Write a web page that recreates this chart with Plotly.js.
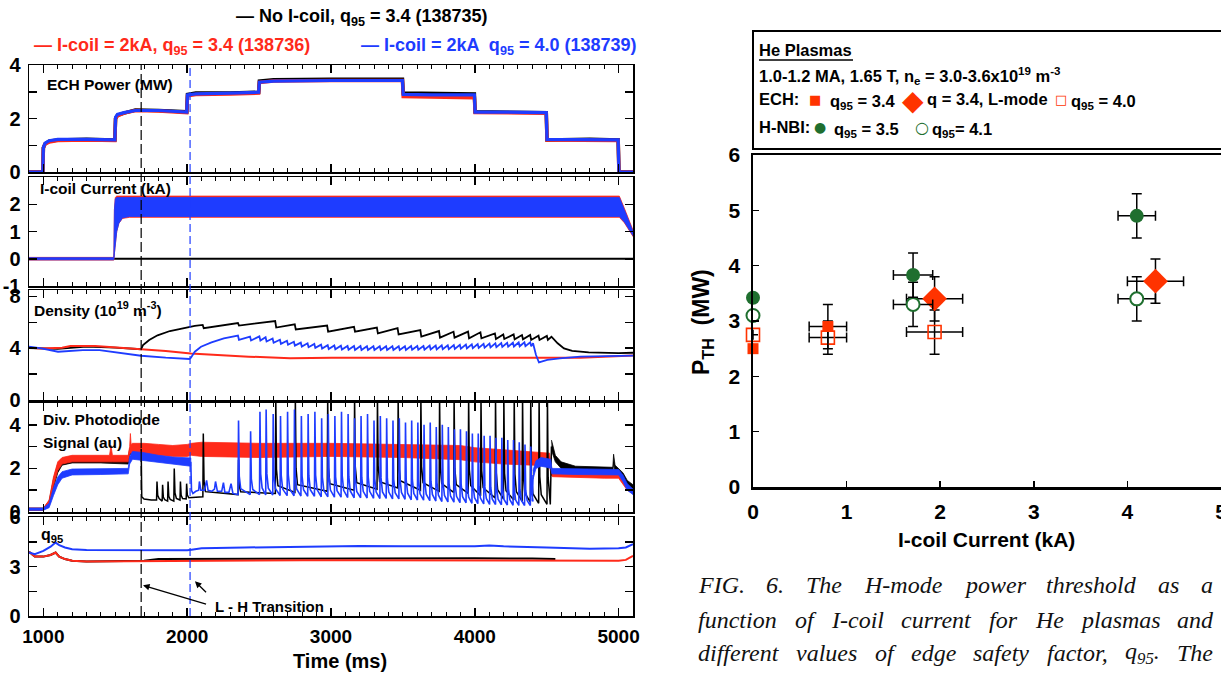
<!DOCTYPE html>
<html><head><meta charset="utf-8">
<script src="https://cdn.plot.ly/plotly-3.0.1.min.js"></script>
<style>html,body{margin:0;padding:0;background:#fff;}#chart{width:1221px;height:675px;}</style>
</head><body><div id="chart"></div>
<script>
// ================= DATA =================
// --- ECH power (MW) ---
const echT     = [900,996,1000,1012,1040,1100,1300,1497,1502,1515,1560,1640,1800,1997,2002,2060,2300,2497,2502,2600,3000,3497,3502,3700,3997,4002,4200,4497,4502,4800,4997,5002,5100];
const echBlack = [0,0,0.9,1.05,1.15,1.2,1.22,1.2,2.0,2.12,2.2,2.32,2.3,2.25,2.9,2.95,2.95,2.98,3.4,3.45,3.47,3.47,2.95,2.95,2.92,2.25,2.25,2.22,1.2,1.22,1.2,0,0];
const echRed   = [0,0,0.9,1.05,1.12,1.18,1.2,1.18,2.0,2.1,2.2,2.3,2.28,2.22,2.85,2.9,2.92,2.95,3.35,3.4,3.42,3.42,2.82,2.8,2.78,2.22,2.22,2.2,1.2,1.2,1.18,0,0];
const echBlue  = [0,0,0.92,1.08,1.17,1.22,1.22,1.2,2.05,2.15,2.22,2.3,2.3,2.24,2.88,2.92,2.95,2.98,3.36,3.4,3.42,3.42,2.9,2.88,2.88,2.24,2.24,2.22,1.22,1.22,1.2,0,0];

// --- I-coil current (kA): envelopes of the oscillating signal ---
const icoilT      = [900,1490,1494,1500,1510,1525,1550,1600,3000,5005,5040,5070,5100];
const icoilBlueHi = [0.04,0.04,1.8,2.2,2.25,2.25,2.25,2.25,2.25,2.25,1.8,1.4,1.0];
const icoilBlueLo = [-0.04,-0.04,0.2,0.6,1.0,1.3,1.5,1.55,1.55,1.55,1.35,1.1,0.85];
const icoilRedHi  = [0.05,0.05,1.8,2.25,2.3,2.3,2.3,2.3,2.3,2.3,1.85,1.45,1.05];
const icoilRedLo  = [-0.05,-0.05,0.2,0.6,1.0,1.3,1.48,1.52,1.52,1.52,1.32,1.07,0.82];
const icoilBlackT = [900,5100];
const icoilBlack  = [0,0];

// --- Density (1e19 m^-3) ---
const redDensT = [900,986,1130,1188,1361,1505,1679,1851,2025,2197,2428,2716,3005,3581,4100,4388,4734,5100];
const redDens  = [4.04,3.98,4.04,4.17,4.17,4.07,3.92,3.79,3.6,3.47,3.35,3.22,3.27,3.27,3.3,3.27,3.27,3.43];
const blueDensPreT = [900,986,1102,1275,1390,1563,1679,1851,2015,2025,2053,2096,2169,2255,2341];
const blueDensPre  = [4.12,3.99,3.73,3.86,3.86,3.6,3.42,3.27,3.17,3.25,3.73,4.12,4.45,4.76,4.95];
const blueElmT = [2356,2440,2505,2548,2597,2648,2697,2745,2793,2840,2887,2934,2980,3026,3072,3118,3163,3208,3253,3298,3342,3386,3430,3474,3517,3560,3603,3646,3689,3731,3773,3815,3857,3899,3941,3982,4023,4064,4105,4146,4187,4228,4268,4308,4348,4388];
const blueDensHi = [4.98,4.9,4.92,4.85,4.75,4.66,4.58,4.5,4.43,4.38,4.33,4.28,4.24,4.22,4.2,4.18,4.17,4.17,4.16,4.16,4.15,4.15,4.15,4.16,4.16,4.17,4.18,4.18,4.2,4.2,4.22,4.23,4.25,4.27,4.28,4.3,4.32,4.34,4.36,4.38,4.4,4.42,4.43,4.45,4.46,4.46];
const blueDensLo = [4.65,4.6,4.6,4.52,4.42,4.34,4.27,4.2,4.13,4.08,4.03,3.98,3.94,3.92,3.9,3.88,3.87,3.87,3.86,3.86,3.86,3.86,3.86,3.87,3.87,3.88,3.89,3.89,3.9,3.9,3.92,3.93,3.95,3.97,3.98,4.0,4.02,4.04,4.06,4.08,4.1,4.12,4.13,4.15,4.16,4.16];
const blueDensPostT = [4405,4425,4446,4504,4590,4734,4900,5100];
const blueDensPost  = [4.38,3.5,2.9,3.1,3.22,3.35,3.4,3.43];
const blackDensPreT = [900,1100,1300,1500,1680,1693,1736,1794,1880,1967,2053];
const blackDensPre  = [4.02,3.95,4.12,4.05,3.92,4.25,4.64,5.0,5.33,5.54,5.72];
const blackElmT   = [2111,2356,2615,2751,2976,3163,3322,3466,3624,3754,3855,3956,4042,4143,4201,4273,4331,4388,4446,4504];
const blackDensHi = [5.8,5.95,6.1,5.85,5.75,5.65,5.6,5.55,5.4,5.33,5.28,5.28,5.23,5.15,5.07,5.07,5.02,5.02,4.97,4.95];
const blackDensLo = [5.55,5.75,5.6,5.45,5.28,5.28,5.15,5.07,4.9,4.82,4.82,4.77,4.77,4.71,4.71,4.69,4.69,4.64,4.64,4.64];
const blackDensPostT = [4533,4576,4620,4677,4792,5000,5100];
const blackDensPost  = [4.89,4.38,3.99,3.79,3.68,3.62,3.65];

// --- Divertor photodiode (au) ---
const redPdT  = [900,1000,1040,1070,1100,1130,1200,1400,1460,1470,1480,1590,1600,1605,1610,1620,1700,1800,1900,2000,2030,2100,2500,3000,3500,3900,4000,4200,4400,4520,4530,4540,4700,4900,5000,5030,5060,5100];
const redPdHi = [0.18,0.18,0.55,1.6,2.3,2.5,2.6,2.6,2.6,3.05,2.6,2.6,3.0,3.6,3.1,3.15,3.15,3.1,3.05,3.1,3.15,3.2,3.15,3.15,3.1,3.05,2.95,2.85,2.75,2.7,2.1,1.95,1.95,1.92,1.9,1.65,1.3,1.1];
const redPdLo = [0.08,0.08,0.35,1.2,1.9,2.2,2.3,2.3,2.3,2.3,2.3,2.3,2.65,2.7,2.7,2.7,2.65,2.6,2.55,2.55,2.6,2.55,2.5,2.55,2.5,2.4,2.3,2.2,2.15,2.1,1.7,1.62,1.6,1.55,1.55,1.3,1.0,0.85];
const bluePd1T  = [900,1000,1040,1070,1100,1130,1200,1400,1590,1600,1620,1700,1800,1900,2000,2025];
const bluePd1Hi = [0.18,0.18,0.4,1.1,1.6,1.85,1.97,1.97,2.0,2.55,2.78,2.72,2.6,2.52,2.48,2.48];
const bluePd1Lo = [0.08,0.08,0.2,0.75,1.25,1.55,1.7,1.72,1.75,2.2,2.42,2.35,2.25,2.18,2.12,2.1];
const blueHPreT = [2025,2030,2040,2060,2080,2085,2095,2120,2135,2145,2170,2190,2197,2210,2240,2252,2262,2290,2305,2318,2345];
const blueHPre  = [2.3,1.0,0.85,0.95,1.0,1.4,1.0,1.0,1.45,1.0,0.95,1.05,1.4,0.95,0.95,1.35,0.9,0.9,1.3,0.85,0.8];
const blueElmPeak = [4.2,3.7,4.6,4.7,4.5,4.4,4.6,4.7,4.4,4.5,4.6,4.3,4.5,4.4,4.6,4.5,4.3,4.4,4.5,4.2,4.4,4.3,4.2,4.3,4.1,4.2,4.1,4.0,4.1,3.9,4.0,3.9,3.8,3.8,3.7,3.6,3.6,3.5,3.5,3.4,3.4,3.3,3.3,3.2,3.1,3.0];
const blueElmBase = [0.8,0.8,0.8,0.78,0.78,0.76,0.75,0.74,0.73,0.72,0.72,0.7,0.7,0.68,0.68,0.66,0.65,0.65,0.64,0.63,0.62,0.62,0.6,0.6,0.58,0.56,0.55,0.54,0.52,0.5,0.48,0.46,0.45,0.43,0.42,0.4,0.38,0.37,0.35,0.34,0.33,0.32,0.31,0.3,0.3,0.3];
const blueHPostT = [4400,4405];
const blueHPost  = [0.5,1.7];
const bluePd2T  = [4405,4425,4460,4500,4528,4536,4700,4900,5000,5030,5060,5100];
const bluePd2Hi = [1.9,2.35,2.5,2.45,2.42,2.0,1.97,1.95,1.95,1.7,1.3,1.05];
const bluePd2Lo = [1.5,2.0,2.1,2.05,2.0,1.75,1.72,1.7,1.7,1.4,1.0,0.8];
const blackPd1T  = [900,1000,1040,1070,1100,1130,1200,1400,1590,1600,1620,1680];
const blackPd1Hi = [0.18,0.18,0.5,1.5,2.2,2.45,2.55,2.55,2.5,2.9,3.05,3.05];
const blackPd1Lo = [0.08,0.08,0.3,1.1,1.8,2.15,2.25,2.25,2.2,2.6,2.75,2.75];
const blackHPreT = [1680,1684,1700,1750];
const blackHPre  = [2.9,0.7,0.6,0.55];
const blackPdElmT    = [1789,1828,1866,1909,1952,1995,2111,2356,2615,2751,2976,3163,3322,3466,3624,3754,3855,3956,4042,4143,4201,4273,4331,4388,4446,4504];
const blackPdElmPeak = [1.4,1.25,1.4,2.0,1.4,1.3,3.6,2.4,5.3,5.3,5.3,5.3,5.3,5.3,5.3,5.3,5.3,5.3,5.3,5.3,5.3,5.3,5.3,5.3,5.3,5.3];
const blackPdElmBase = [0.55,0.5,0.5,0.5,0.55,0.6,0.7,0.8,0.85,0.9,0.95,1.0,1.05,1.1,1.0,0.95,0.9,0.85,0.75,0.65,0.6,0.55,0.5,0.45,0.4,0.35];
const blackHPostT = [4525,4533];
const blackHPost  = [0.35,3.0];
const blackPd2T  = [4533,4540,4560,4600,4700,4960,4965,4975,5000,5030,5060,5100];
const blackPd2Hi = [3.3,3.1,2.6,2.3,2.1,2.05,2.65,2.15,2.0,1.8,1.45,1.25];
const blackPd2Lo = [2.9,2.7,2.3,2.0,1.85,1.8,2.3,1.85,1.75,1.5,1.2,1.0];

// --- q95 ---
const qT    = [900,940,1000,1050,1085,1110,1150,1200,1300,1600,2000,2030,2100,2400,2800,3200,3500,4000,4100,4200,4500,4800,5000,5050,5100];
const qBlue = [3.85,3.75,3.95,4.2,4.45,4.3,4.15,4.05,4.0,3.98,3.98,4.02,4.1,4.15,4.2,4.25,4.22,4.22,4.28,4.22,4.15,4.08,4.1,4.15,4.35];
const qRed  = [3.9,3.6,3.6,3.7,3.85,3.6,3.45,3.35,3.3,3.32,3.35,3.35,3.36,3.37,3.38,3.38,3.38,3.38,3.38,3.38,3.38,3.36,3.35,3.4,3.65];
const qBlackT = [900,940,1000,1050,1085,1110,1150,1200,1300,1700,1800,2500,3500,4000,4400,4560];
const qBlack  = [3.9,3.6,3.6,3.7,3.85,3.6,3.45,3.35,3.3,3.35,3.45,3.47,3.5,3.5,3.48,3.45];

const lhTimes = [1680, 2020];   // L-H transition times (black, blue shots)

// --- Right plot: P_TH vs I-coil current ---
const ech34X = [0, 0.8],  ech34Y = [2.5, 2.9],  ech34Ex = [0, 0.2],  ech34Ey = [0, 0.4];
const echLX  = [1.94, 4.3], echLY = [3.4, 3.72], echLEx = [0.3, 0.3], echLEy = [0.4, 0.4];
const ech40X = [0, 0.8, 1.94], ech40Y = [2.75, 2.7, 2.8], ech40Ex = [0, 0.2, 0.3], ech40Ey = [0, 0.3, 0.4];
const nbi35X = [0, 1.71, 4.1], nbi35Y = [3.42, 3.83, 4.9], nbi35Ex = [0, 0.21, 0.2], nbi35Ey = [0, 0.4, 0.4];
const nbi41X = [0, 1.71, 4.1], nbi41Y = [3.1, 3.3, 3.4],  nbi41Ex = [0, 0.21, 0.2], nbi41Ey = [0, 0.4, 0.4];

const timeTicks = [1000, 2000, 3000, 4000, 5000];

// ================= STYLE / LAYOUT =================
const W = 1221, H = 675;
const FONT = "'Liberation Sans', Arial, Helvetica, sans-serif";
const SERIF = "'Liberation Serif', 'Times New Roman', serif";
const BLACK = '#000000', RED = '#ff2a1a', BLUE = '#1e3cff', ORANGE = '#ff3300', GREEN = '#1f6f2f';
const px = x => x / W, py = y => 1 - y / H;
const XDOM = [px(29), px(633)];
const PANELS = [[65,172],[177,286],[290,400],[403,512],[517,616]];
const SPIKE_SHAPE = [0.25, 0.08];

function sfx(i){ return i === 1 ? '' : String(i); }

function lineTrace(x, y, color, width, i){
  return {type:'scatter', mode:'lines', x, y, xaxis:'x'+sfx(i), yaxis:'y'+sfx(i),
    line:{color, width}, hoverinfo:'skip'};
}
function bandTrace(t, hi, lo, color, i){
  return {type:'scatter', mode:'lines', x:t.concat(t.slice().reverse()), y:hi.concat(lo.slice().reverse()),
    fill:'toself', fillcolor:color, line:{color, width:0.8}, xaxis:'x'+sfx(i), yaxis:'y'+sfx(i), hoverinfo:'skip'};
}
function sawLine(preT, preV, elmT, hi, lo, postT, postV){
  const x = preT.slice(), y = preV.slice();
  elmT.forEach((t, k) => { x.push(t - 3, t + 4); y.push(hi[k], lo[k]); });
  return {x: x.concat(postT), y: y.concat(postV)};
}
function spikeLine(preT, preV, elmT, peak, base, postT, postV){
  const x = preT.slice(), y = preV.slice();
  elmT.forEach((t, k) => {
    const b = base[k], p = peak[k];
    x.push(t - 2, t + 1, t + 6, t + 16);
    y.push(b, p, b + SPIKE_SHAPE[0] * (p - b), b + SPIKE_SHAPE[1] * (p - b));
  });
  return {x: x.concat(postT), y: y.concat(postV)};
}

const traces = [];
// Panel 1: ECH
traces.push(lineTrace(echT, echBlack, BLACK, 3.5, 1));
traces.push(lineTrace(echT, echRed, RED, 3.5, 1));
traces.push(lineTrace(echT, echBlue, BLUE, 3.2, 1));
// Panel 2: I-coil
traces.push(lineTrace(icoilBlackT, icoilBlack, BLACK, 2, 2));
traces.push(bandTrace(icoilT, icoilRedHi, icoilRedLo, RED, 2));
traces.push(bandTrace(icoilT, icoilBlueHi, icoilBlueLo, BLUE, 2));
// Panel 3: density
const bd = sawLine(blackDensPreT, blackDensPre, blackElmT, blackDensHi, blackDensLo, blackDensPostT, blackDensPost);
traces.push(lineTrace(bd.x, bd.y, BLACK, 1.8, 3));
traces.push(lineTrace(redDensT, redDens, RED, 2, 3));
const bld = sawLine(blueDensPreT, blueDensPre, blueElmT, blueDensHi, blueDensLo, blueDensPostT, blueDensPost);
traces.push(lineTrace(bld.x, bld.y, BLUE, 1.8, 3));
// Panel 4: photodiode
traces.push(bandTrace(blackPd1T, blackPd1Hi, blackPd1Lo, BLACK, 4));
traces.push(bandTrace(redPdT, redPdHi, redPdLo, RED, 4));
const bh = spikeLine(blackHPreT, blackHPre, blackPdElmT, blackPdElmPeak, blackPdElmBase, blackHPostT, blackHPost);
traces.push(lineTrace(bh.x, bh.y, BLACK, 1.5, 4));
traces.push(bandTrace(blackPd2T, blackPd2Hi, blackPd2Lo, BLACK, 4));
traces.push(bandTrace(bluePd1T, bluePd1Hi, bluePd1Lo, BLUE, 4));
const blh = spikeLine(blueHPreT, blueHPre, blueElmT, blueElmPeak, blueElmBase, blueHPostT, blueHPost);
traces.push(lineTrace(blh.x, blh.y, BLUE, 1.6, 4));
traces.push(bandTrace(bluePd2T, bluePd2Hi, bluePd2Lo, BLUE, 4));
// Panel 5: q95
traces.push(lineTrace(qBlackT, qBlack, BLACK, 2, 5));
traces.push(lineTrace(qT, qRed, RED, 2, 5));
traces.push(lineTrace(qT, qBlue, BLUE, 2, 5));

// Right plot
function errs(arr){ return {type:'data', array:arr, visible:true, color:'#000', thickness:1.5, width:5}; }
function pts(x, y, ex, ey, marker){
  return {type:'scatter', mode:'markers', x, y, xaxis:'x6', yaxis:'y6', cliponaxis:false,
    error_x: errs(ex), error_y: errs(ey), marker, hoverinfo:'skip'};
}
traces.push(pts(ech40X, ech40Y, ech40Ex, ech40Ey, {symbol:'square-open', size:13, color:ORANGE, line:{width:1.6, color:ORANGE}}));
traces.push(pts(ech34X, ech34Y, ech34Ex, ech34Ey, {symbol:'square', size:11, color:ORANGE}));
traces.push(pts(echLX, echLY, echLEx, echLEy, {symbol:'diamond', size:19, color:ORANGE}));
traces.push(pts(nbi41X, nbi41Y, nbi41Ex, nbi41Ey, {symbol:'circle', size:13, color:'#ffffff', line:{width:2, color:GREEN}}));
traces.push(pts(nbi35X, nbi35Y, nbi35Ex, nbi35Ey, {symbol:'circle', size:14, color:GREEN}));

const layout = {width:W, height:H, margin:{l:0,r:0,t:0,b:0}, showlegend:false,
  paper_bgcolor:'#ffffff', plot_bgcolor:'rgba(0,0,0,0)', font:{family:FONT, color:'#000'}};

const yspec = [
  {range:[0,4],   vals:[0,2,4],      minor:[1,3]},
  {range:[-1,3],  vals:[-1,0,1,2],   minor:[]},
  {range:[0,8.5], vals:[0,4,8],      minor:[2,6]},
  {range:[0,5],   vals:[0,2,4],      minor:[1,3]},
  {range:[0,6],   vals:[0,3,6],      minor:[1.5,4.5]}
];
for (let i = 1; i <= 5; i++){
  layout['xaxis'+sfx(i)] = {domain:XDOM, range:[900,5100], anchor:'y'+sfx(i), showline:true, mirror:'ticks',
    linecolor:'#000', linewidth:1.5, ticks:'inside', ticklen:8, tickwidth:1.5, tickcolor:'#000',
    tickmode:'array', tickvals:timeTicks, ticktext:timeTicks.map(String), showticklabels:i===5,
    tickfont:{family:FONT, size:19, weight:'bold', color:'#000'}, ticklabelstandoff:3,
    minor:{tickmode:'linear', tick0:0, dtick:100, ticks:'inside', ticklen:4, tickwidth:1, tickcolor:'#000'},
    showgrid:false, zeroline:false, fixedrange:true};
  const s = yspec[i-1];
  const ya = {domain:[py(PANELS[i-1][1]), py(PANELS[i-1][0])], range:s.range, anchor:'x'+sfx(i),
    showline:true, mirror:'ticks', linecolor:'#000', linewidth:1.5, ticks:'inside', ticklen:8, tickwidth:1.5,
    tickcolor:'#000', tickmode:'array', tickvals:s.vals, ticktext:s.vals.map(String),
    tickfont:{family:FONT, size:20, weight:'bold', color:'#000'}, ticklabelstandoff:3,
    showgrid:false, zeroline:false, fixedrange:true};
  if (s.minor.length) ya.minor = {tickmode:'array', tickvals:s.minor, ticks:'inside', ticklen:8, tickwidth:1.5, tickcolor:'#000'};
  layout['yaxis'+sfx(i)] = ya;
}
layout.xaxis6 = {domain:[px(753), 1], range:[0,5], anchor:'y6', showline:true, mirror:true, linecolor:'#000',
  linewidth:2.5, ticks:'inside', ticklen:6, tickwidth:1.5, tickcolor:'#000', tickmode:'array', tickvals:[0,1,2,3,4,5],
  tickfont:{family:FONT, size:21, weight:'bold', color:'#000'}, ticklabelstandoff:4, ticklabeloverflow:'allow',
  showgrid:false, zeroline:false, fixedrange:true};
layout.yaxis6 = {domain:[py(487), py(155)], range:[0,6], anchor:'x6', showline:true, mirror:true, linecolor:'#000',
  linewidth:2.5, ticks:'inside', ticklen:6, tickwidth:1.5, tickcolor:'#000', tickmode:'array', tickvals:[0,1,2,3,4,5,6],
  tickfont:{family:FONT, size:21, weight:'bold', color:'#000'}, ticklabelstandoff:6, ticklabeloverflow:'allow',
  showgrid:false, zeroline:false, fixedrange:true};

// shapes: L-H transition dashed lines, legend box
layout.shapes = [
  {type:'line', xref:'x5', yref:'paper', x0:lhTimes[0], x1:lhTimes[0], y0:py(616), y1:py(65), line:{color:BLACK, width:1.2, dash:'10px,4px'}},
  {type:'line', xref:'x5', yref:'paper', x0:lhTimes[1], x1:lhTimes[1], y0:py(616), y1:py(65), line:{color:BLUE, width:1.2, dash:'8px,4px'}},
  {type:'rect', xref:'paper', yref:'paper', x0:px(753), x1:px(1224), y0:py(149), y1:py(31), line:{color:'#000', width:2}, fillcolor:'rgba(0,0,0,0)'},
  {type:'line', xref:'paper', yref:'paper', x0:px(759), x1:px(853), y0:py(60), y1:py(60), line:{color:'#000', width:1.5}}
];

// annotations
const ann = [];
function T(text, x, y, size, color, anchor, extra){
  const a = {text, xref:'paper', yref:'paper', x:px(x), y:py(y), xanchor:anchor||'left', yanchor:'middle',
    showarrow:false, borderpad:0, borderwidth:0,
    font:{family:FONT, size:size, weight:'bold', color:color||'#000'}};
  if (extra) Object.assign(a, extra);
  ann.push(a);
}
T('\u2014 No I-coil, q<sub>95</sub> = 3.4 (138735)', 362, 18, 18, '#000', 'center');
T('\u2014 I-coil = 2kA, q<sub>95</sub> = 3.4 (138736)', 34, 47, 18, RED, 'left');
T('\u2014 I-coil = 2kA  q<sub>95</sub> = 4.0 (138739)', 636, 47, 18, BLUE, 'right');
T('ECH Power (MW)', 47, 85, 15.5);
T('I-coil Current (kA)', 40, 188, 15.5);
T('Density (10<sup>19</sup> m<sup>-3</sup>)', 34, 309, 15.5);
T('Div. Photodiode', 43, 419, 15.5);
T('Signal (au)', 43, 442, 15.5);
T('q<sub>95</sub>', 41, 535, 16);
T('L - H Transition', 215, 606, 15);
T('Time (ms)', 340, 661, 20, '#000', 'center');
// arrows
ann.push({x:1693, y:1.86, ax:2152, ay:0.66, xref:'x5', yref:'y5', axref:'x5', ayref:'y5', text:' ', showarrow:true, arrowhead:2, arrowsize:1, arrowwidth:1.3, arrowcolor:'#000'});
ann.push({x:2054, y:2.1, ax:2152, ay:1.26, xref:'x5', yref:'y5', axref:'x5', ayref:'y5', text:' ', showarrow:true, arrowhead:2, arrowsize:1, arrowwidth:1.3, arrowcolor:'#000'});
// right plot titles
T('I-coil Current (kA)', 986, 539, 21, '#000', 'center');
T('P<sub>TH</sub>  (MW)', 702, 322, 23, '#000', 'center', {textangle:-90});
// legend box
T('He Plasmas', 759, 50, 16.5);
T('1.0-1.2 MA, 1.65 T, n<sub>e</sub> = 3.0-3.6x10<sup>19</sup> m<sup>-3</sup>', 759, 76, 16.5);
T('ECH:', 759, 99, 16.5);
T('\u25A0', 815, 99, 13, ORANGE, 'center', {font:{family:'DejaVu Sans', size:13, color:ORANGE}});
T('q<sub>95</sub> = 3.4', 830, 102, 16.5);
T('\u25C6', 913, 100, 28, ORANGE, 'center', {font:{family:'DejaVu Sans', size:28, color:ORANGE}});
T('q = 3.4, L-mode', 927, 99, 16.5);
T('\u25A1', 1061, 99, 13, ORANGE, 'center', {font:{family:'DejaVu Sans', size:13, color:ORANGE}});
T('q<sub>95</sub> = 4.0', 1071, 102, 16.5);
T('H-NBI:', 759, 127, 16.5);
T('\u25CF', 820, 127, 14, GREEN, 'center', {font:{family:'DejaVu Sans', size:14, color:GREEN}});
T('q<sub>95</sub> = 3.5', 834, 130, 16.5);
T('\u25CB', 922, 127, 16, GREEN, 'center', {font:{family:'DejaVu Sans', size:16, weight:'bold', color:GREEN}});
T('q<sub>95</sub>= 4.1', 932, 130, 16.5);

// caption (justified)
const capLines = [
  ['FIG.', '6.', 'The', 'H-mode', 'power', 'threshold', 'as', 'a'],
  ['function', 'of', 'I-coil', 'current', 'for', 'He', 'plasmas', 'and'],
  ['different', 'values', 'of', 'edge', 'safety', 'factor,', 'q<sub>95</sub>.', 'The']
];
const CAP_X0 = 698, CAP_X1 = 1213, CAP_Y = [585, 620, 653], CAP_SIZE = 24;
const ctx = document.createElement('canvas').getContext('2d');
function measure(word, size){
  let w = 0;
  word.split(/<sub>|<\/sub>/).forEach((p, k) => {
    const s = k % 2 ? size * 0.7 : size;
    ctx.font = "italic " + s + "px 'Liberation Serif'";
    w += ctx.measureText(p).width;
  });
  return w;
}
capLines.forEach((words, li) => {
  const ws = words.map(w => measure(w, CAP_SIZE));
  const total = ws.reduce((a, b) => a + b, 0);
  const gap = (CAP_X1 - CAP_X0 - total) / (words.length - 1);
  let x = CAP_X0;
  words.forEach((w, k) => {
    T(w, x, CAP_Y[li], CAP_SIZE, '#111', 'left', {font:{family:SERIF, size:CAP_SIZE, style:'italic', weight:'normal', color:'#111'}});
    x += ws[k] + gap;
  });
});
layout.annotations = ann;

Plotly.newPlot('chart', traces, layout, {staticPlot:true, displayModeBar:false});
</script></body></html>
